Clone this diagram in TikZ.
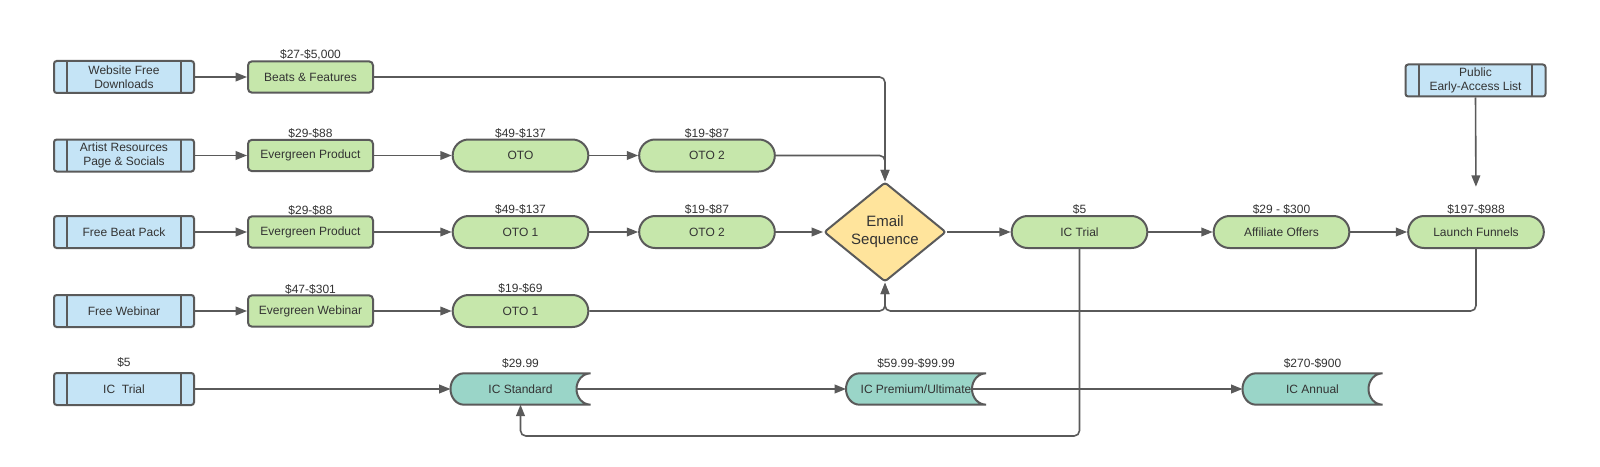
\documentclass[tikz,border=0pt]{standalone}
\usepackage{fontspec}
\setmainfont{Liberation Sans}
\usetikzlibrary{arrows.meta,positioning,shapes.geometric,shapes.misc,backgrounds}

\definecolor{srcblue}{HTML}{C5E4F6}
\definecolor{offgreen}{HTML}{C6E7AB}
\definecolor{mailyellow}{HTML}{FFE49C}
\definecolor{icteal}{HTML}{9AD5C8}
\definecolor{edge}{HTML}{5A5A5A}
\definecolor{ink}{HTML}{333333}

\tikzset{
  base/.style={draw=edge, line width=1.5pt, text=ink, align=center, inner sep=2pt,
    font=\fontsize{9}{10.5}\selectfont},
  % entry points: box with a bar at each end
  source/.style={base, rectangle, rounded corners=2pt, fill=srcblue,
    minimum width=105pt, minimum height=24pt,
    path picture={\draw[edge, line width=1.5pt]
      ([xshift=10pt]path picture bounding box.north west) -- ([xshift=10pt]path picture bounding box.south west)
      ([xshift=-10pt]path picture bounding box.north east) -- ([xshift=-10pt]path picture bounding box.south east);}},
  offer/.style={base, rectangle, rounded corners=3pt, fill=offgreen,
    minimum width=93.75pt, minimum height=23.5pt},
  oto/.style={base, rounded rectangle, fill=offgreen,
    minimum width=105.75pt, minimum height=24pt},
  decision/.style={base, diamond, rounded corners=2pt, fill=mailyellow,
    minimum width=91.5pt, minimum height=68pt, inner sep=0pt,
    font=\fontsize{11.25}{13.5}\selectfont},
  % outline of these is drawn afterwards on the background layer
  store/.style={base, draw=none, rectangle, outer sep=0pt,
    minimum width=105pt, minimum height=23.5pt},
  storeshape/.style={fill=icteal, draw=edge, line width=1.5pt},
  price/.style={text=ink, inner sep=1.5pt, font=\fontsize{9}{10.5}\selectfont},
  tierprice/.style={price, yshift=3.5pt},
  every label/.style={label distance=-1.5pt},
  flow/.style={draw=edge, line width=1.2pt, rounded corners=4pt,
    -{Triangle[length=8.5pt,width=6.5pt]}},
}

\begin{document}
\begin{tikzpicture}[x=0.75pt, y=-0.75pt]
\useasboundingbox (0,0) rectangle (1600,467);

% where the traffic comes from
\node[source] (web) at (124,77) {Website Free\\Downloads};
\node[source] (res) at (124,155.5) {Artist Resources\\Page \& Socials};
\node[source] (pack) at (124,232) {Free Beat Pack};
\node[source] (webinar) at (124,311) {Free Webinar};
\node[source, label={[tierprice]above:\$5}] (trial) at (124,389) {IC\ \ Trial};
\node[source] (early) at (1475.5,80.5) {Public\\Early-Access List};

% front end offers
\node[offer, label={[price]above:\$27-\$5,000}] (beats) at (310.5,77) {Beats \& Features};
\node[offer, label={[price]above:\$29-\$88}] (ever1) at (310.5,155.5) {Evergreen Product};
\node[offer, label={[price]above:\$29-\$88}] (ever2) at (310.5,232) {Evergreen Product};
\node[offer, label={[price]above:\$47-\$301}] (everw) at (310.5,311) {Evergreen Webinar};

% one time offers
\node[oto, label={[price]above:\$49-\$137}] (oto) at (520.5,155.5) {OTO};
\node[oto, label={[price]above:\$19-\$87}] (oto2) at (707,155.5) {OTO 2};
\node[oto, label={[price]above:\$49-\$137}] (otoa) at (520.5,232) {OTO 1};
\node[oto, label={[price]above:\$19-\$87}] (otob) at (707,232) {OTO 2};
\node[oto, label={[price]above:\$19-\$69}] (otow) at (520.5,311) {OTO 1};

\node[decision] (email) at (885,232) {Email\\Sequence};
\node[oto, label={[price]above:\$5}] (ictrial) at (1079.5,232) {IC Trial};
\node[oto, label={[price]above:\$29 - \$300}] (aff) at (1281.5,232) {Affiliate Offers};
\node[oto, label={[price,name=launchprice]above:\$197-\$988}] (launch) at (1476,232) {Launch Funnels};

% membership tiers
\node[store, label={[tierprice]above:\$29.99}] (std) at (520.5,389) {IC Standard};
\node[store, label={[tierprice]above:\$59.99-\$99.99}] (prem) at (916,389) {IC Premium/Ultimate};
\node[store, label={[tierprice]above:\$270-\$900}] (annual) at (1312.5,389) {IC Annual};
\coordinate (back) at (1079.5,436);

\begin{scope}[on background layer]
  \fill[white] (0,0) rectangle (1600,467);
  \foreach \n in {std,prem,annual}
    \filldraw[storeshape] ([xshift=10pt]\n.north west) -- (\n.north east)
      arc[start angle=90, end angle=270, x radius=10.5pt, y radius=11.75pt]
      -- ([xshift=10pt]\n.south west)
      arc[start angle=270, end angle=90, x radius=10pt, y radius=11.75pt] -- cycle;
\end{scope}

\foreach \a/\b in {web/beats, res/ever1, ever1/oto, oto/oto2, pack/ever2, ever2/otoa,
    otoa/otob, otob/email, webinar/everw, everw/otow, email/ictrial, ictrial/aff,
    aff/launch, trial/std}
  \draw[flow] (\a.east) -- (\b.west);
\draw[flow] ([xshift=-10.5pt]std.east) -- (prem.west);
\draw[flow] ([xshift=-10.5pt]prem.east) -- (annual.west);

\draw[flow] (beats.east) -| (email.north);
\draw[flow] (oto2.east) -| (email.north);
\draw[flow] (otow.east) -| (email.south);
\draw[flow] (launch.south) |- (otow.east -| email.south) -- (email.south);
\draw[flow, shorten >=12pt] (early.south) -- (launchprice.north);
\draw[flow] (ictrial.south) -- (back) -| (std.south);
\end{tikzpicture}
\end{document}
